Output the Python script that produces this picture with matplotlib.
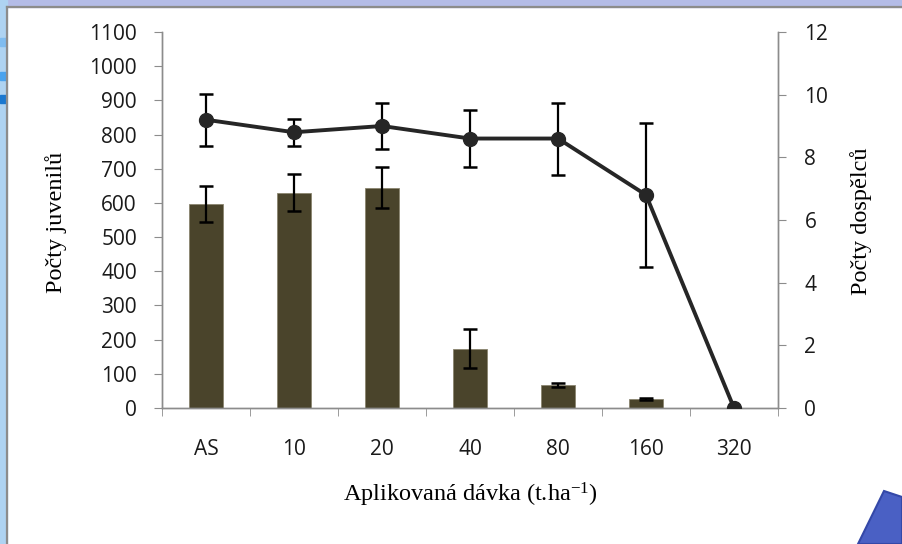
import matplotlib
matplotlib.use("Agg")
import matplotlib.pyplot as plt
from matplotlib.patches import Rectangle, Polygon
import numpy as np

categories = ["AS", "10", "20", "40", "80", "160", "320"]
juveniles = [597, 630, 644, 173, 67, 26, 0]
juveniles_err = [53, 55, 60, 57, 5, 2, 0]
adults = [9.2, 8.8, 9.0, 8.6, 8.6, 6.8, 0.0]
adults_err = [0.83, 0.43, 0.72, 0.9, 1.15, 2.3, 0.0]
left_ticks = list(range(0, 1101, 100))
right_ticks = list(range(0, 13, 2))

plt.rcParams['mathtext.fontset'] = 'custom'
plt.rcParams['mathtext.rm'] = 'Liberation Serif'
plt.rcParams['mathtext.it'] = 'Liberation Serif:italic'

W, H = 902, 544
fig = plt.figure(figsize=(W / 100, H / 100), dpi=100)
fig.patch.set_facecolor("white")

def px(x0, y0, w, h):
    return (x0 / W, 1 - (y0 + h) / H), w / W, h / H

# decorative background strips
(xy, w, h) = px(0, 0, W, 7)
fig.add_artist(Rectangle(xy, w, h, transform=fig.transFigure, color="#b4bce8", zorder=0))
(xy, w, h) = px(0, 0, 7, H)
fig.add_artist(Rectangle(xy, w, h, transform=fig.transFigure, color="#aed3f2", zorder=0))
for (yy, hh, cc) in [(38, 8, "#7fbcf0"), (72, 8, "#4aa3ee"), (95, 8, "#1a78d0")]:
    (xy, w, h) = px(0, yy, 6, hh)
    fig.add_artist(Rectangle(xy, w, h, transform=fig.transFigure, color=cc, zorder=0))
# gray frame lines
fig.add_artist(plt.Line2D([7.5 / W, 7.5 / W], [0, 1 - 6.5 / H], transform=fig.transFigure, color="#8c8c8c", lw=1.6))
fig.add_artist(plt.Line2D([7.5 / W, 1], [1 - 6.5 / H, 1 - 6.5 / H], transform=fig.transFigure, color="#8c8c8c", lw=1.6))
# blue arrow at bottom right
pts = [(884, 491), (902, 497), (902, 544), (858, 544)]
fig.add_artist(Polygon([(x / W, 1 - y / H) for x, y in pts], closed=True, transform=fig.transFigure,
                       facecolor="#4a60c4", edgecolor="#3448a8", lw=1.5))

ax = fig.add_axes([162 / W, 1 - 408 / H, (778 - 162) / W, (408 - 32) / H])
ax2 = ax.twinx()

x = np.arange(len(categories))
ax.bar(x, juveniles, width=0.39, color="#4a442b", edgecolor="#8a8570", linewidth=0.6, zorder=2)
ax.errorbar(x[:-1], juveniles[:-1], yerr=juveniles_err[:-1], fmt="none", ecolor="black",
            elinewidth=1.6, capsize=5, capthick=1.8, zorder=3)

ax2.errorbar(x[:-1], adults[:-1], yerr=adults_err[:-1], fmt="none", ecolor="black",
             elinewidth=1.6, capsize=5, capthick=1.8, zorder=3)
ax2.plot(x, adults, color="#262626", lw=2.8, marker="o", markersize=10, zorder=4)

ax.set_xlim(-0.5, 6.5)
ax.set_ylim(0, 1100)
ax2.set_ylim(0, 12)
ax.set_yticks(left_ticks)
ax2.set_yticks(right_ticks)
ax.set_xticks(x)
ax.set_xticklabels(categories)
ax.set_xticks(np.arange(-0.5, 7.0, 1.0), minor=True)

for a in (ax, ax2):
    a.spines["top"].set_visible(False)
    for s in ["left", "right", "bottom"]:
        a.spines[s].set_color("#8c8c8c")
        a.spines[s].set_linewidth(1.0)
    a.patch.set_visible(False)

ax.tick_params(axis="x", which="major", length=0, pad=22)
ax.tick_params(axis="x", which="minor", length=6, color="#8c8c8c", direction="out")
ax.tick_params(axis="y", length=6, color="#8c8c8c", direction="out", pad=12)
ax2.tick_params(axis="y", length=6, color="#8c8c8c", direction="out", pad=13)
for lab in ax.get_xticklabels() + ax.get_yticklabels() + ax2.get_yticklabels():
    lab.set_fontfamily("Open Sans")
    lab.set_fontsize(15)
    lab.set_color("#1a1a1a")

lbl_font = dict(family="Liberation Serif", size=17.5, color="black")
fig.text(470 / W, 1 - 495 / H, "Aplikovaná dávka (t.ha$^{-1}$)", ha="center", va="center", **lbl_font)
fig.text(56 / W, 1 - 222 / H, "Počty juvenilů", ha="center", va="center", rotation=90, **lbl_font)
fig.text(861 / W, 1 - 221 / H, "Počty dospělců", ha="center", va="center", rotation=90, **lbl_font)

fig.savefig("out.png", dpi=100)
